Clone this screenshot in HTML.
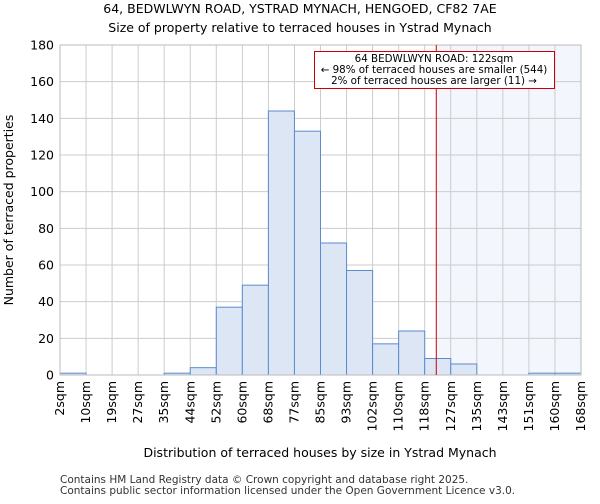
<!DOCTYPE html>
<html><head><meta charset="utf-8"><style>
body{margin:0;background:#fff;font-family:"DejaVu Sans","Liberation Sans",sans-serif}
svg text{font-family:"DejaVu Sans","Liberation Sans",sans-serif}
</style></head><body>
<svg id="chart" width="600" height="500" xmlns="http://www.w3.org/2000/svg">
<text x="300" y="13" text-anchor="middle" font-size="12.5">64, BEDWLWYN ROAD, YSTRAD MYNACH, HENGOED, CF82 7AE</text>
<text x="300" y="32" text-anchor="middle" font-size="12.5">Size of property relative to terraced houses in Ystrad Mynach</text>
<g id="plot"></g>
<text x="320" y="457" text-anchor="middle" font-size="12.5">Distribution of terraced houses by size in Ystrad Mynach</text>
<text transform="translate(13,210) rotate(-90)" text-anchor="middle" font-size="12.5">Number of terraced properties</text>
<text x="60" y="483" font-size="10.5" fill="#333">Contains HM Land Registry data © Crown copyright and database right 2025.</text>
<text x="60" y="494" font-size="10.5" fill="#333">Contains public sector information licensed under the Open Government Licence v3.0.</text>
</svg>
<script>
const binLabels=["2sqm","10sqm","19sqm","27sqm","35sqm","44sqm","52sqm","60sqm","68sqm","77sqm","85sqm","93sqm","102sqm","110sqm","118sqm","127sqm","135sqm","143sqm","151sqm","160sqm","168sqm"];
const binEdges=[2,10,19,27,35,44,52,60,68,77,85,93,102,110,118,127,135,143,151,160,168];
const counts=[1,0,0,0,1,4,37,49,144,133,72,57,17,24,9,6,0,0,1,1];
const yTicks=[0,20,40,60,80,100,120,140,160,180];
const propertySize=122;
const NS="http://www.w3.org/2000/svg";
const L=60,R=581,T=45,B=375,yMax=180;
const nb=counts.length,bw=(R-L)/nb;
const y=v=>B-(v/yMax)*(B-T);
const xi=i=>L+i*bw;
function xv(v){for(let i=0;i<binEdges.length-1;i++){if(v<=binEdges[i+1])return xi(i)+(v-binEdges[i])/(binEdges[i+1]-binEdges[i])*bw;}return R;}
const g=document.getElementById('plot');
function mk(t,a){const e=document.createElementNS(NS,t);for(const k in a)e.setAttribute(k,a[k]);g.appendChild(e);return e;}
const px=xv(propertySize);
let e=mk('rect',{x:px,y:T,width:R-px,height:B-T,fill:'#f3f6fd'});


yTicks.forEach(t=>{let l=mk('line',{x1:L,x2:R,y1:y(t),y2:y(t),stroke:'#ccc','stroke-width':1});


let tx=mk('text',{x:L-6,y:y(t)+4.5,'text-anchor':'end','font-size':12.5});tx.textContent=t;

});
binLabels.forEach((s,i)=>{let l=mk('line',{x1:xi(i),x2:xi(i),y1:T,y2:B,stroke:'#ccc','stroke-width':1});


let tx=mk('text',{'text-anchor':'end','font-size':12.5,transform:`translate(${xi(i)+4},${B+6}) rotate(-90)`});tx.textContent=s;

});
counts.forEach((c,i)=>{let r=mk('rect',{x:xi(i),y:y(c),width:bw,height:B-y(c),fill:'#dce6f5',stroke:'#5b8bd0','stroke-width':1});

});
e=mk('rect',{x:L,y:T,width:R-L,height:B-T,fill:'none',stroke:'#bbb'});


e=mk('line',{x1:px,x2:px,y1:T,y2:B,stroke:'#cc0000','stroke-width':1});


e=mk('rect',{x:314.5,y:51.5,width:240,height:37,fill:'#fff',stroke:'#cc0000'});


["64 BEDWLWYN ROAD: 122sqm","← 98% of terraced houses are smaller (544)","2% of terraced houses are larger (11) →"].forEach((s,i)=>{let t=mk('text',{x:434,y:62+i*11,'text-anchor':'middle','font-size':10.3});t.textContent=s;

});
</script>
</body></html>
